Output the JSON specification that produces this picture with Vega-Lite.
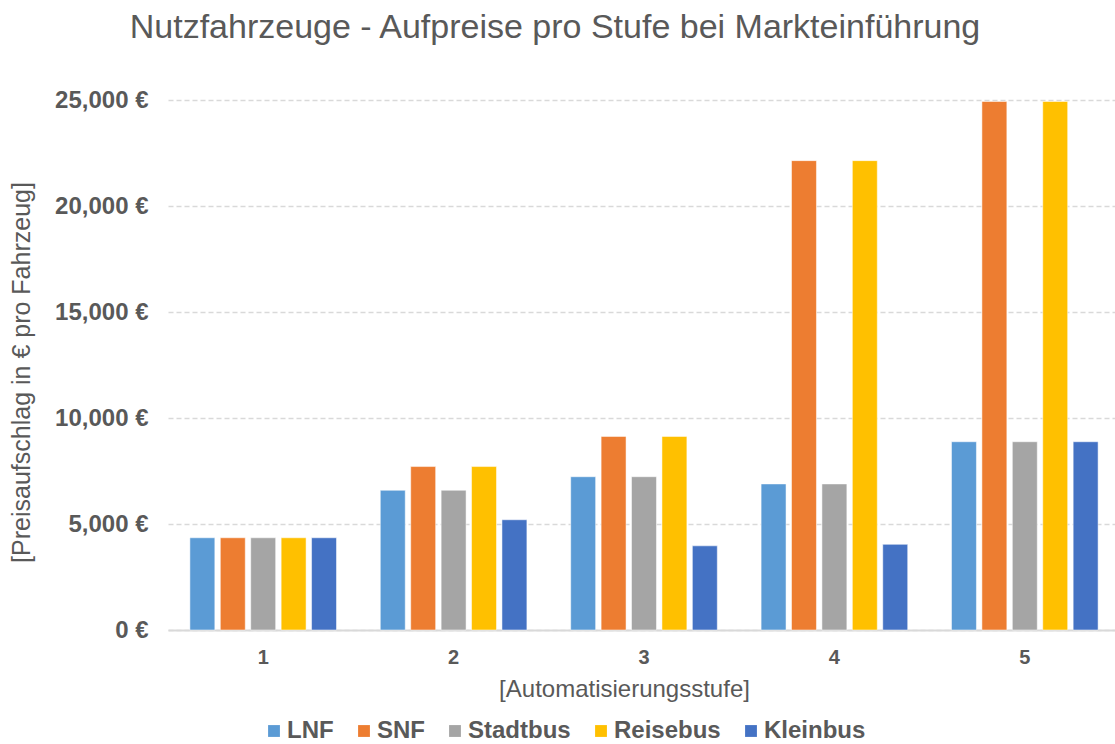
{
  "$schema": "https://vega.github.io/schema/vega-lite/v6.json",
  "width": 952,
  "height": 530,
  "autosize": {"type": "none"},
  "padding": {"left": 168, "top": 100, "right": 0, "bottom": 114},
  "background": "white",
  "config": {
    "font": "Liberation Sans",
    "view": {"stroke": null}
  },
  "title": {
    "text": "Nutzfahrzeuge - Aufpreise pro Stufe bei Markteinführung",
    "fontSize": 34,
    "fontWeight": "normal",
    "color": "#595959",
    "anchor": "middle",
    "dx": -89,
    "offset": 43,
    "font": "Liberation Sans"
  },
  "data": {
    "values": [
      {"stufe": "1", "typ": "LNF", "preis": 4350},
      {"stufe": "1", "typ": "SNF", "preis": 4350},
      {"stufe": "1", "typ": "Stadtbus", "preis": 4350},
      {"stufe": "1", "typ": "Reisebus", "preis": 4350},
      {"stufe": "1", "typ": "Kleinbus", "preis": 4350},
      {"stufe": "2", "typ": "LNF", "preis": 6590},
      {"stufe": "2", "typ": "SNF", "preis": 7710},
      {"stufe": "2", "typ": "Stadtbus", "preis": 6590},
      {"stufe": "2", "typ": "Reisebus", "preis": 7710},
      {"stufe": "2", "typ": "Kleinbus", "preis": 5200},
      {"stufe": "3", "typ": "LNF", "preis": 7230},
      {"stufe": "3", "typ": "SNF", "preis": 9130},
      {"stufe": "3", "typ": "Stadtbus", "preis": 7230},
      {"stufe": "3", "typ": "Reisebus", "preis": 9130},
      {"stufe": "3", "typ": "Kleinbus", "preis": 3970},
      {"stufe": "4", "typ": "LNF", "preis": 6890},
      {"stufe": "4", "typ": "SNF", "preis": 22140},
      {"stufe": "4", "typ": "Stadtbus", "preis": 6890},
      {"stufe": "4", "typ": "Reisebus", "preis": 22140},
      {"stufe": "4", "typ": "Kleinbus", "preis": 4040},
      {"stufe": "5", "typ": "LNF", "preis": 8880},
      {"stufe": "5", "typ": "SNF", "preis": 24930},
      {"stufe": "5", "typ": "Stadtbus", "preis": 8880},
      {"stufe": "5", "typ": "Reisebus", "preis": 24930},
      {"stufe": "5", "typ": "Kleinbus", "preis": 8880}
    ]
  },
  "mark": {"type": "bar", "stroke": "white", "strokeOpacity": 0.5, "strokeWidth": 1},
  "encoding": {
    "x": {
      "field": "stufe",
      "type": "nominal",
      "scale": {"paddingInner": 0.23, "paddingOuter": 0.115},
      "axis": {
        "title": "[Automatisierungsstufe]",
        "titleFontSize": 24,
        "titleFontWeight": "normal",
        "titleColor": "#595959",
        "titlePadding": 10,
        "titleX": 456,
        "titleAlign": "center",
        "labelAngle": 0,
        "labelFontSize": 20,
        "labelFontWeight": "bold",
        "labelColor": "#595959",
        "labelPadding": 17,
        "ticks": false,
        "domainColor": "#d9d9d9",
        "domainWidth": 2
      }
    },
    "xOffset": {
      "field": "typ",
      "type": "nominal",
      "sort": ["LNF", "SNF", "Stadtbus", "Reisebus", "Kleinbus"],
      "scale": {"paddingInner": 0.18, "paddingOuter": 0}
    },
    "y": {
      "field": "preis",
      "type": "quantitative",
      "scale": {"domain": [0, 25000], "nice": false},
      "axis": {
        "title": "[Preisaufschlag in € pro Fahrzeug]",
        "titleFontSize": 25,
        "titleFontWeight": "normal",
        "titleColor": "#595959",
        "titlePadding": 20,
        "titleY": 272,
        "titleAlign": "center",
        "values": [0, 5000, 10000, 15000, 20000, 25000],
        "labelExpr": "format(datum.value, ',') + ' €'",
        "labelFontSize": 24,
        "labelFontWeight": "bold",
        "labelColor": "#595959",
        "labelPadding": 20,
        "ticks": false,
        "domain": false,
        "gridColor": "#d9d9d9",
        "gridDash": [5, 3],
        "gridWidth": 1.3
      }
    },
    "color": {
      "field": "typ",
      "type": "nominal",
      "sort": ["LNF", "SNF", "Stadtbus", "Reisebus", "Kleinbus"],
      "scale": {
        "domain": ["LNF", "SNF", "Stadtbus", "Reisebus", "Kleinbus"],
        "range": ["#5B9BD5", "#ED7D31", "#A5A5A5", "#FFC000", "#4472C4"]
      },
      "legend": {
        "title": null,
        "orient": "none",
        "direction": "horizontal",
        "legendX": 94,
        "legendY": 619,
        "symbolType": "square",
        "symbolSize": 140,
        "symbolStrokeWidth": 0,
        "labelFontSize": 24,
        "labelFontWeight": "bold",
        "labelColor": "#595959",
        "labelOffset": 1,
        "columnPadding": 18
      }
    }
  }
}
